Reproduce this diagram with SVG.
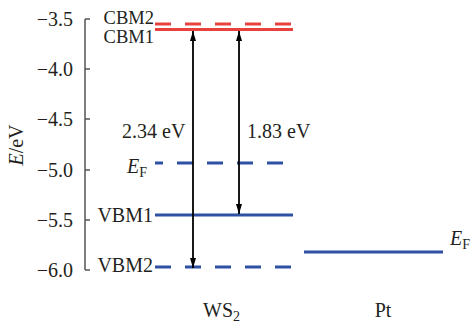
<svg xmlns="http://www.w3.org/2000/svg" width="474" height="323" viewBox="0 0 474 323">
<defs>
<style>
text{font-family:'Liberation Serif','DejaVu Serif','Times New Roman',serif;font-size:20px;fill:#231f20}
.r{text-anchor:end}
.m{text-anchor:middle}
.cb{font-size:18.5px}
.red{stroke:#e8423f;stroke-width:3;fill:none}
.blue{stroke:#2f51a3;stroke-width:3;fill:none}
.dash{stroke-dasharray:16 14}
.arr{stroke:#000;stroke-width:1.8;fill:none;marker-start:url(#ah);marker-end:url(#ah)}
.ax{stroke:#555;stroke-width:1.5;fill:none}
</style>
<marker id="ah" viewBox="0 0 10 6" refX="10" refY="3" markerWidth="10" markerHeight="6" markerUnits="userSpaceOnUse" orient="auto-start-reverse">
<path d="M0,0 L10,3 L0,6 Z" fill="#000"/>
</marker>
</defs>
<g id="axis">
<path class="ax" d="M85,19 V270 M85,19 H90 M85,69 H90 M85,119 H90 M85,170 H90 M85,220 H90 M85,270 H90"/>
<text class="r" x="73" y="26">−3.5</text>
<text class="r" x="73" y="76">−4.0</text>
<text class="r" x="73" y="126">−4.5</text>
<text class="r" x="73" y="177">−5.0</text>
<text class="r" x="73" y="227">−5.5</text>
<text class="r" x="73" y="277">−6.0</text>
<text class="m" transform="translate(23,145) rotate(-90)"><tspan font-style="italic">E</tspan>/eV</text>
</g>
<g id="CBM2">
<line class="red dash" x1="155" y1="24" x2="293" y2="24"/>
<text class="r cb" x="154" y="24">CBM2</text>
</g>
<g id="CBM1">
<line class="red" x1="155" y1="29.5" x2="293" y2="29.5"/>
<text class="r cb" x="154" y="43">CBM1</text>
</g>
<g id="EF-WS2">
<line class="blue dash" x1="155" y1="163" x2="293" y2="163" stroke-dashoffset="8"/>
<text x="127" y="173"><tspan font-style="italic">E</tspan><tspan font-size="14" dy="4">F</tspan></text>
</g>
<g id="VBM1">
<line class="blue" x1="155" y1="215" x2="293" y2="215"/>
<text class="r" x="153" y="222">VBM1</text>
</g>
<g id="VBM2">
<line class="blue dash" x1="155" y1="267" x2="293" y2="267"/>
<text class="r" x="153" y="272">VBM2</text>
</g>
<g id="EF-Pt">
<line class="blue" x1="304" y1="252" x2="443" y2="252"/>
<text x="450" y="245"><tspan font-style="italic">E</tspan><tspan font-size="14" dy="4">F</tspan></text>
</g>
<g id="connectors">
<line class="arr" x1="193" y1="31" x2="193" y2="268"/>
<line class="arr" x1="239" y1="31" x2="239" y2="214"/>
<text x="122" y="138">2.34 eV</text>
<text x="247" y="138">1.83 eV</text>
</g>
<g id="labels">
<text x="203" y="317">WS<tspan font-size="14" dy="4">2</tspan></text>
<text class="m" x="383" y="317">Pt</text>
</g>
</svg>
